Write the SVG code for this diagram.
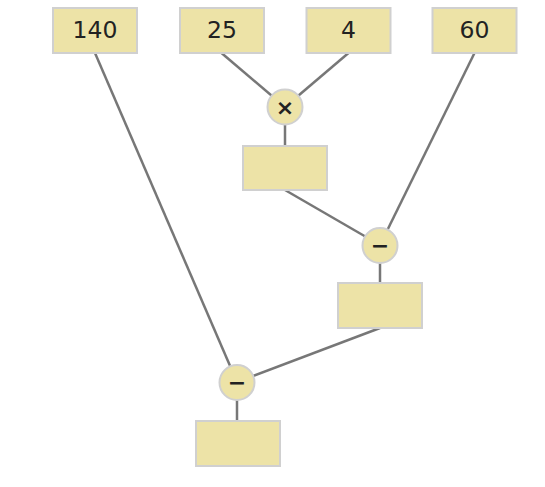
<svg xmlns="http://www.w3.org/2000/svg" width="545" height="487" viewBox="0 0 545 487">
<style>
.box{fill:#ede3a7;stroke:#d0d0d0;stroke-width:2}
.op{fill:#ede3a7;stroke:#d0d0d0;stroke-width:2}
.lbl{font-family:"DejaVu Sans",sans-serif;font-size:23.5px;fill:#222;text-anchor:middle;dominant-baseline:central}
.opl{font-family:"DejaVu Sans",sans-serif;font-size:22px;font-weight:bold;fill:#222;text-anchor:middle;dominant-baseline:central}
.edge{stroke:#777;stroke-width:2.5;fill:none}
</style>
<rect width="545" height="487" fill="#fff"/>
<g id="connectors">
<line class="edge" x1="95" y1="53" x2="237" y2="382"/>
<line class="edge" x1="221.5" y1="53" x2="285" y2="107"/>
<line class="edge" x1="348.5" y1="53" x2="285" y2="107"/>
<line class="edge" x1="285" y1="107" x2="285" y2="146"/>
<line class="edge" x1="285" y1="190" x2="380" y2="245"/>
<line class="edge" x1="474.5" y1="53" x2="380" y2="245"/>
<line class="edge" x1="380" y1="245" x2="380" y2="283"/>
<line class="edge" x1="380" y1="328" x2="237" y2="382"/>
<line class="edge" x1="237" y1="382" x2="237" y2="421"/>
</g>
<g id="n140"><rect class="box" x="53" y="8" width="84" height="45"/><text class="lbl" x="95" y="30">140</text></g>
<g id="n25"><rect class="box" x="180" y="8" width="84" height="45"/><text class="lbl" x="222" y="30">25</text></g>
<g id="n4"><rect class="box" x="306.5" y="8" width="84" height="45"/><text class="lbl" x="348.5" y="30">4</text></g>
<g id="n60"><rect class="box" x="432.5" y="8" width="84" height="45"/><text class="lbl" x="474.5" y="30">60</text></g>
<g id="mul"><circle class="op" cx="285" cy="107" r="17.5"/><text class="opl" x="285" y="107">×</text></g>
<g id="r1"><rect class="box" x="243" y="146" width="84" height="44"/></g>
<g id="sub1"><circle class="op" cx="380" cy="245.5" r="17.5"/><text class="opl" x="380" y="245.5">−</text></g>
<g id="r2"><rect class="box" x="338" y="283" width="84" height="45"/></g>
<g id="sub2"><circle class="op" cx="237" cy="382.5" r="17.5"/><text class="opl" x="237" y="382.5">−</text></g>
<g id="r3"><rect class="box" x="196" y="421" width="84" height="45"/></g>
</svg>
